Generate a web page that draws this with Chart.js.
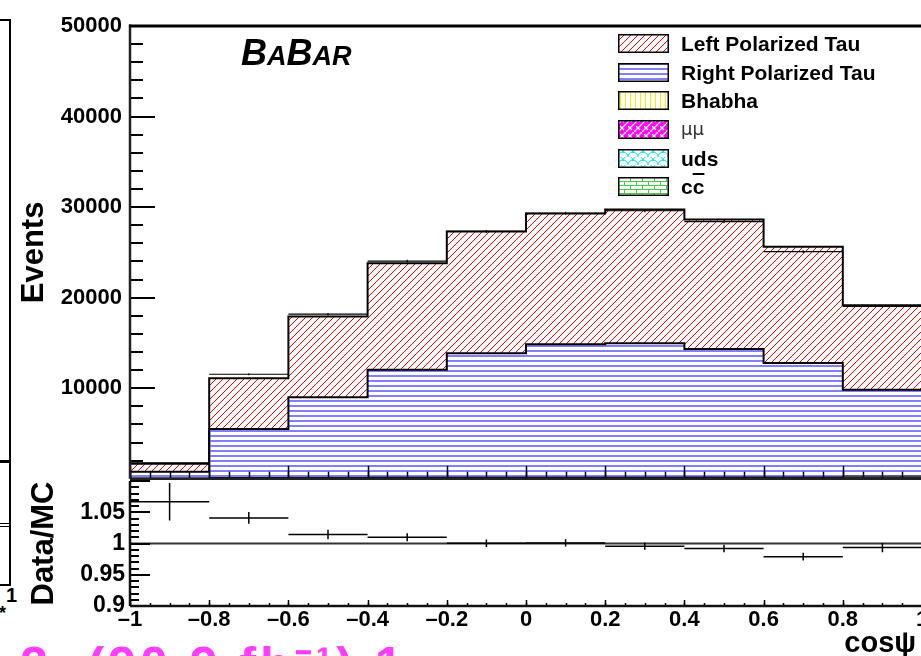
<!DOCTYPE html>
<html>
<head>
<meta charset="utf-8">
<script src="https://cdn.jsdelivr.net/npm/chart.js@4.4.1/dist/chart.umd.min.js"></script>
<style>
html,body{margin:0;padding:0;background:#fff;overflow:hidden;width:921px;height:656px;}
#wrap{position:relative;width:921px;height:656px;overflow:hidden;background:#fff;}
canvas.chart{position:absolute;left:0;}
#topChart{top:0;}
#ratioChart{top:440px;}
.ln{position:absolute;background:#000;}
.txt{position:absolute;font-family:'Liberation Sans',Arial,sans-serif;color:#000;white-space:nowrap;}
#legend{position:absolute;left:618px;top:0;}
.lgItem{position:absolute;left:0;height:29px;display:flex;align-items:center;font-family:'Liberation Sans',Arial,sans-serif;font-weight:bold;font-size:21px;line-height:1;white-space:nowrap;}
.lgItem canvas{margin-right:12px;display:block;}
#babar{left:241px;top:35px;font-style:italic;font-weight:bold;line-height:1;}
#magenta{left:20px;top:640px;font-weight:bold;font-size:50px;color:#ff3cff;line-height:1;letter-spacing:4px;}
</style>
</head>
<body>
<div id="wrap">
  <!-- neighbouring pad, cut off on the left -->
  <div class="ln" style="left:9px;top:19px;width:2px;height:567px;"></div>
  <div class="ln" style="left:0;top:19px;width:10px;height:2px;"></div>
  <div class="ln" style="left:0;top:460px;width:10px;height:3px;"></div>
  <div class="ln" style="left:0;top:523px;width:10px;height:1px;"></div>
  <div class="ln" style="left:0;top:526px;width:10px;height:1px;"></div>
  <div class="ln" style="left:0;top:584px;width:10px;height:2px;"></div>
  <div class="txt" style="left:6px;top:584px;font-size:20px;font-weight:bold;">1</div>
  <div class="txt" style="left:-1px;top:603px;font-size:18px;font-weight:bold;">*</div>

  <canvas id="topChart" class="chart" width="960" height="500" style="width:960px;height:500px;"></canvas>
  <canvas id="ratioChart" class="chart" width="960" height="216" style="width:960px;height:216px;"></canvas>

  <div id="babar" class="txt"><span style="font-size:36px">B</span><span style="font-size:27px">A</span><span style="font-size:36px">B</span><span style="font-size:27px">AR</span></div>
  <div id="legend"></div>
  <div id="magenta" class="txt">2. (90.9 fb⁻¹) 1</div>
</div>
<script>
// ---------------- data ----------------
const binEdges   = [-1, -0.8, -0.6, -0.4, -0.2, 0, 0.2, 0.4, 0.6, 0.8, 1];
const binCenters = [-0.9, -0.7, -0.5, -0.3, -0.1, 0.1, 0.3, 0.5, 0.7, 0.9];
const seriesNames = ['Left Polarized Tau', 'Right Polarized Tau', 'Bhabha', 'μμ', 'uds', 'cc̄'];
const leftPolTau  = [880, 5590, 8920, 11750, 13440, 14420, 14750, 14310, 12850, 9330];
const rightPolTau = [695, 5370, 8845, 11865, 13695, 14695, 14805, 14135, 12590, 9540];
const bhabha      = [30, 40, 40, 40, 40, 40, 40, 50, 70, 180];
const mumu        = [10, 20, 25, 30, 30, 30, 30, 30, 30, 30];
const uds         = [30, 60, 80, 90, 90, 90, 90, 90, 80, 70];
const ccbar       = [5, 10, 10, 15, 15, 15, 15, 15, 10, 10];
const dataEvents  = [1760, 11545, 18180, 24030, 27320, 29320, 29600, 28400, 25090, 19035];
const dataErrors  = [42, 107, 135, 155, 165, 171, 172, 169, 158, 138];
const ratio       = [1.067, 1.041, 1.0145, 1.010, 1.0005, 1.001, 0.9957, 0.992, 0.979, 0.9935];
const ratioErrors = [0.030, 0.0095, 0.0075, 0.0065, 0.006, 0.0058, 0.0058, 0.006, 0.0063, 0.0073];
const eventTicks  = [10000, 20000, 30000, 40000, 50000];
const ratioTicks  = [0.9, 0.95, 1, 1.05];
const cosTicks    = [-1, -0.8, -0.6, -0.4, -0.2, 0, 0.2, 0.4, 0.6, 0.8, 1];
const ratioReference = 1;

const FONT = "'Liberation Sans', Arial, Helvetica, sans-serif";

// ---------------- hatch patterns ----------------
function makeTile(w, h, draw) {
  const c = document.createElement('canvas'); c.width = w; c.height = h;
  draw(c.getContext('2d'), w, h); return c;
}
const tiles = {
  left: makeTile(7, 7, (g, w) => {
    g.strokeStyle = '#ff0000'; g.lineWidth = 1;
    g.beginPath(); g.moveTo(-1, w + 1); g.lineTo(w + 1, -1);
    g.moveTo(-2, 1); g.lineTo(1, -2); g.moveTo(w - 1, w + 2); g.lineTo(w + 2, w - 1); g.stroke();
  }),
  right: makeTile(5, 5, (g) => { g.fillStyle = '#7f7fff'; g.fillRect(0, 0, 5, 2); }),
  bhabha: makeTile(5, 5, (g) => { g.fillStyle = '#f0f000'; g.fillRect(2, 0, 1, 5); }),
  mumu: makeTile(8, 8, (g) => {
    g.fillStyle = '#ff00ff'; g.fillRect(0, 0, 8, 8);
    g.strokeStyle = '#ffffff'; g.lineWidth = 1.3;
    g.beginPath(); g.moveTo(0, 4); g.lineTo(4, 0); g.moveTo(4, 8); g.lineTo(8, 4);
    g.moveTo(2, 6); g.lineTo(4, 8); g.moveTo(4, 0); g.lineTo(6, 2); g.stroke();
  }),
  uds: makeTile(10, 8, (g) => {
    g.strokeStyle = '#00e8e8'; g.lineWidth = 1;
    g.beginPath(); g.arc(5, 8, 5, Math.PI, 2 * Math.PI); g.stroke();
    g.beginPath(); g.arc(0, 4, 5, Math.PI * 1.5, 2 * Math.PI); g.stroke();
    g.beginPath(); g.arc(10, 4, 5, Math.PI, Math.PI * 1.5); g.stroke();
  }),
  ccbar: makeTile(12, 8, (g) => {
    g.strokeStyle = '#44cc44'; g.lineWidth = 1;
    g.beginPath(); g.moveTo(0, 0.5); g.lineTo(12, 0.5); g.moveTo(0, 4.5); g.lineTo(12, 4.5);
    g.moveTo(0.5, 0); g.lineTo(0.5, 4); g.moveTo(6.5, 4); g.lineTo(6.5, 8); g.stroke();
  })
};
const patCtx = document.createElement('canvas').getContext('2d');
const pat = k => patCtx.createPattern(tiles[k], 'repeat');

// ---------------- helpers building library data ----------------
const stepPts = vals => binEdges.map((e, i) => ({ x: e, y: vals[Math.min(i, vals.length - 1)] }));
function errPts(vals, errs) {
  const p = [];
  vals.forEach((v, i) => {
    p.push({ x: binEdges[i], y: v }, { x: binEdges[i + 1], y: v }, { x: binCenters[i], y: null },
           { x: binCenters[i], y: v - errs[i] }, { x: binCenters[i], y: v + errs[i] }, { x: binCenters[i], y: null });
  });
  return p;
}

// ---------------- ROOT-style axes plugin ----------------
const rootAxes = {
  id: 'rootAxes',
  afterDatasetsDraw(chart, args, o) {
    const { ctx, chartArea: a, scales: { x, y } } = chart;
    ctx.save();
    ctx.strokeStyle = '#000';
    ctx.lineWidth = o.tickWidth;
    const ticksY = (step, len) => {
      const n = Math.round((y.max - y.min) / step);
      ctx.beginPath();
      for (let k = 0; k <= n; k++) {
        const py = Math.round(y.getPixelForValue(y.min + k * step));
        ctx.moveTo(a.left, py); ctx.lineTo(a.left + len, py);
      }
      ctx.stroke();
    };
    const ticksX = (step, len) => {
      const n = Math.round((x.max - x.min) / step);
      ctx.beginPath();
      for (let k = 0; k <= n; k++) {
        const px = Math.round(x.getPixelForValue(x.min + k * step)) + 0.5;
        ctx.moveTo(px, a.bottom); ctx.lineTo(px, a.bottom - len);
      }
      ctx.stroke();
    };
    ticksY(o.yMajor, o.yMajorLen); ticksY(o.yMinor, o.yMinorLen);
    ctx.lineWidth = o.xTickWidth;
    ticksX(o.xMajor, o.xMajorLen); ticksX(o.xMinor, o.xMinorLen);
    // frame
    ctx.lineWidth = o.axisWidth;
    ctx.strokeStyle = o.axisColor;
    ctx.beginPath();
    ctx.moveTo(a.left, a.top - (o.topFrame ? 1.5 : 0)); ctx.lineTo(a.left, a.bottom);
    ctx.moveTo(a.left, a.bottom); ctx.lineTo(a.right + 2, a.bottom);
    ctx.stroke();
    if (o.topFrame) {
      ctx.lineWidth = 3; ctx.strokeStyle = '#000';
      ctx.beginPath(); ctx.moveTo(a.left - 1, a.top); ctx.lineTo(a.right + 2, a.top); ctx.stroke();
    }
    ctx.restore();
  }
};

// ---------------- top chart ----------------
const stackDefs = [
  { name: seriesNames[5], vals: ccbar, p: 'ccbar', bw: 1 },
  { name: seriesNames[4], vals: uds, p: 'uds', bw: 1 },
  { name: seriesNames[3], vals: mumu, p: 'mumu', bw: 1 },
  { name: seriesNames[2], vals: bhabha, p: 'bhabha', bw: 1 },
  { name: seriesNames[1], vals: rightPolTau, p: 'right', bw: 2 },
  { name: seriesNames[0], vals: leftPolTau, p: 'left', bw: 2 }
];
const topDatasets = stackDefs.map((d, i) => ({
  label: d.name,
  data: stepPts(d.vals),
  stepped: 'before',
  fill: i === 0 ? 'origin' : '-1',
  backgroundColor: pat(d.p),
  borderColor: '#000',
  borderWidth: d.bw,
  pointRadius: 0,
  stack: 'mc',
  order: 1,
  patternKey: d.p
}));
topDatasets.push({
  label: 'Data',
  data: errPts(dataEvents, dataErrors),
  borderColor: '#000', borderWidth: 1.2, pointRadius: 0, fill: false,
  spanGaps: false, stack: 'data', order: 0
});

const noGrid = { display: false, drawTicks: false, tickLength: 0 };

const topChart = new Chart(document.getElementById('topChart'), {
  type: 'line',
  data: { datasets: topDatasets },
  options: {
    responsive: false, animation: false, devicePixelRatio: 1,
    layout: { padding: { top: 26, right: 38, bottom: 20, left: 0 } },
    plugins: {
      legend: { display: false }, tooltip: { enabled: false },
      rootAxes: { yMajor: 10000, yMajorLen: 25, yMinor: 2000, yMinorLen: 13,
                  xMajor: 0.2, xMajorLen: 13, xMinor: 0.05, xMinorLen: 7,
                  tickWidth: 2, xTickWidth: 1.5, axisWidth: 2.5, axisColor: '#222', topFrame: true }
    },
    scales: {
      x: { type: 'linear', min: -1, max: 1, display: false },
      y: {
        type: 'linear', min: 0, max: 50000, stacked: true,
        afterFit: s => { s.width = 130; },
        afterBuildTicks: s => { s.ticks = eventTicks.map(v => ({ value: v })); },
        grid: noGrid, border: { display: false },
        ticks: { color: '#000', padding: 8, font: { family: FONT, size: 22, weight: 'bold' }, callback: v => String(v) },
        title: { display: true, text: 'Events', color: '#000', font: { family: FONT, size: 31, weight: 'bold', lineHeight: 1 }, padding: { top: 19, bottom: 0 } }
      }
    }
  },
  plugins: [rootAxes]
});

// ---------------- ratio chart ----------------
const ratioChart = new Chart(document.getElementById('ratioChart'), {
  type: 'line',
  data: {
    datasets: [
      { label: 'Data/MC', data: errPts(ratio, ratioErrors), borderColor: '#000', borderWidth: 1.5,
        pointRadius: 0, fill: false, spanGaps: false },
      { label: 'unity', data: [{ x: binEdges[0], y: ratioReference }, { x: binEdges[binEdges.length - 1], y: ratioReference }],
        borderColor: '#333', borderWidth: 2, pointRadius: 0, fill: false }
    ]
  },
  options: {
    responsive: false, animation: false, devicePixelRatio: 1,
    layout: { padding: { top: 41, right: 38, bottom: 0, left: 0 } },
    plugins: {
      legend: { display: false }, tooltip: { enabled: false },
      rootAxes: { yMajor: 0.05, yMajorLen: 20, yMinor: 0.01, yMinorLen: 9,
                  xMajor: 0.2, xMajorLen: 6, xMinor: 0.05, xMinorLen: 3,
                  tickWidth: 2, xTickWidth: 1.5, axisWidth: 2.5, axisColor: '#111', topFrame: false }
    },
    scales: {
      x: {
        type: 'linear', min: -1, max: 1,
        afterFit: s => { s.height = 50; },
        afterBuildTicks: s => { s.ticks = cosTicks.map(v => ({ value: v })); },
        grid: noGrid, border: { display: false },
        ticks: { color: '#000', padding: 1, maxRotation: 0, font: { family: FONT, size: 22, weight: 'bold' },
                 callback: v => { const r = Math.round(v * 10) / 10; return r < 0 ? '\u2013' + Math.abs(r) : String(r); } },
        title: { display: true, text: 'cos\u03C8\u2009', align: 'end', color: '#000', font: { family: FONT, size: 29, weight: 'bold', lineHeight: 1 }, padding: { top: 0, bottom: -2 } }
      },
      y: {
        type: 'linear', min: 0.9, max: 1.1,
        afterFit: s => { s.width = 130; },
        afterBuildTicks: s => { s.ticks = ratioTicks.map(v => ({ value: v })); },
        grid: noGrid, border: { display: false },
        ticks: { color: '#000', padding: 5, font: { family: FONT, size: 23, weight: 'bold' }, callback: v => String(Math.round(v * 100) / 100) },
        title: { display: true, text: 'Data/MC', color: '#000', font: { family: FONT, size: 31, weight: 'bold', lineHeight: 1 }, padding: { top: 29, bottom: 0 } }
      }
    }
  },
  plugins: [rootAxes]
});

// ---------------- HTML legend from the chart's datasets ----------------
(function buildLegend() {
  const box = document.getElementById('legend');
  const items = topChart.data.datasets.filter(d => d.stack === 'mc').slice().reverse();
  items.forEach((d, i) => {
    const row = document.createElement('div');
    row.className = 'lgItem';
    row.style.top = (43.3 + i * 28.7 - 14.5) + 'px';
    const sw = document.createElement('canvas');
    sw.width = 51; sw.height = 19;
    const g = sw.getContext('2d');
    g.fillStyle = '#fff'; g.fillRect(0, 0, 51, 19);
    g.fillStyle = g.createPattern(tiles[d.patternKey], 'repeat'); g.fillRect(1, 1, 49, 17);
    g.strokeStyle = '#000'; g.lineWidth = 1.5; g.strokeRect(0.75, 0.75, 49.5, 17.5);
    row.appendChild(sw);
    const t = document.createElement('span');
    if (d.label === 'μμ') {
      t.textContent = d.label;
      t.style.fontWeight = 'normal'; t.style.fontFamily = "'DejaVu Sans', sans-serif"; t.style.fontSize = '18px'; t.style.color = '#333';
    } else if (d.label === 'cc̄') {
      t.innerHTML = 'c<span style="text-decoration:overline;text-decoration-thickness:2px">c</span>';
    } else {
      t.textContent = d.label;
    }
    row.appendChild(t);
    box.appendChild(row);
  });
})();
</script>
</body>
</html>
